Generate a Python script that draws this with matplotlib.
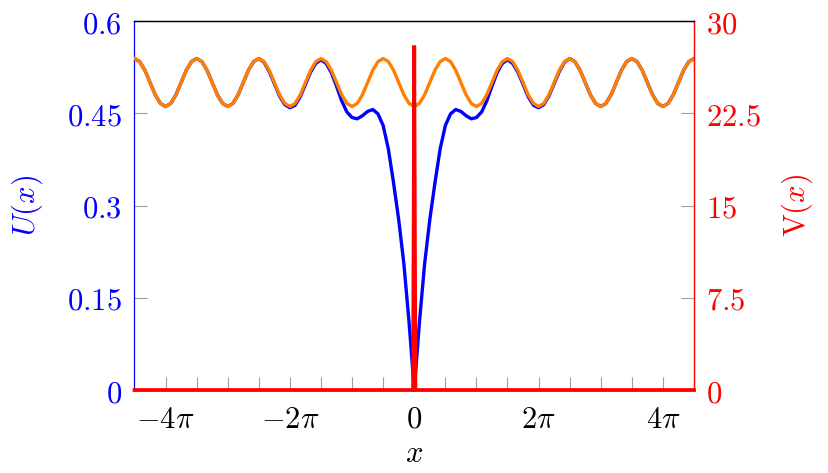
import numpy as np
import matplotlib
matplotlib.use("Agg")
import matplotlib.pyplot as plt
from matplotlib.ticker import FixedLocator, FixedFormatter

plt.rcParams['mathtext.fontset'] = 'cm'
plt.rcParams['font.family'] = ['DejaVu Serif']

# ---- data (x in units of pi, sampled every pi/12 from -4.5pi to 4.5pi) ----
x_pi = np.linspace(-4.5, 4.5, 109)

# background periodic state (orange)
U0_values = [
    0.539, 0.534, 0.520, 0.500, 0.480, 0.466,
    0.461, 0.466, 0.480, 0.500, 0.520, 0.534, 0.539, 0.534, 0.520, 0.500, 0.480, 0.466,
    0.461, 0.466, 0.480, 0.500, 0.520, 0.534, 0.539, 0.534, 0.520, 0.500, 0.480, 0.466,
    0.461, 0.466, 0.480, 0.500, 0.520, 0.534, 0.539, 0.534, 0.520, 0.500, 0.480, 0.466,
    0.461, 0.466, 0.480, 0.500, 0.520, 0.534, 0.539, 0.534, 0.520, 0.500, 0.480, 0.466,
    0.461,
    0.466, 0.480, 0.500, 0.520, 0.534, 0.539, 0.534, 0.520, 0.500, 0.480, 0.466, 0.461,
    0.466, 0.480, 0.500, 0.520, 0.534, 0.539, 0.534, 0.520, 0.500, 0.480, 0.466, 0.461,
    0.466, 0.480, 0.500, 0.520, 0.534, 0.539, 0.534, 0.520, 0.500, 0.480, 0.466, 0.461,
    0.466, 0.480, 0.500, 0.520, 0.534, 0.539, 0.534, 0.520, 0.500, 0.480, 0.466, 0.461,
    0.466, 0.480, 0.500, 0.520, 0.534, 0.539,
]

# state with the defect at x = 0 (blue)
U_values = [
    0.539, 0.534, 0.520, 0.500, 0.480, 0.466,
    0.461, 0.466, 0.480, 0.500, 0.520, 0.534, 0.539, 0.534, 0.520, 0.500, 0.480, 0.466,
    0.461, 0.466, 0.480, 0.500, 0.520, 0.534, 0.539, 0.533, 0.518, 0.498, 0.478, 0.464,
    0.459, 0.463, 0.477, 0.497, 0.517, 0.531, 0.537, 0.531, 0.516, 0.494, 0.470, 0.452,
    0.443, 0.441, 0.446, 0.453, 0.456, 0.449, 0.430, 0.392, 0.337, 0.277, 0.205, 0.110,
    0.000,
    0.110, 0.205, 0.277, 0.337, 0.392, 0.430, 0.449, 0.456, 0.453, 0.446, 0.441, 0.443,
    0.452, 0.470, 0.494, 0.516, 0.531, 0.537, 0.531, 0.517, 0.497, 0.477, 0.463, 0.459,
    0.464, 0.478, 0.498, 0.518, 0.533, 0.539, 0.534, 0.520, 0.500, 0.480, 0.466, 0.461,
    0.466, 0.480, 0.500, 0.520, 0.534, 0.539, 0.534, 0.520, 0.500, 0.480, 0.466, 0.461,
    0.466, 0.480, 0.500, 0.520, 0.534, 0.539,
]

# potential (red): zero everywhere except a narrow spike at x = 0
V_x = [-4.5 * np.pi, -0.06, 0.0, 0.06, 4.5 * np.pi]
V_values = [0.0, 0.0, 28.0, 0.0, 0.0]

x_tick_pi = [-4, -3.5, -3, -2.5, -2, -1.5, -1, -0.5, 0, 0.5, 1, 1.5, 2, 2.5, 3, 3.5, 4]
x_tick_labels = [r'$-4\pi$', '', '', '', r'$-2\pi$', '', '', '', r'$0$', '', '', '',
                 r'$2\pi$', '', '', '', r'$4\pi$']
u_ticks = [0, 0.15, 0.3, 0.45, 0.6]
u_tick_labels = [r'$0$', r'$0.15$', r'$0.3$', r'$0.45$', r'$0.6$']
v_ticks = [0, 7.5, 15, 22.5, 30]
v_tick_labels = [r'$0$', r'$7.5$', r'$15$', r'$22.5$', r'$30$']

BLUE = '#0000ff'
ORANGE = '#ff8000'
RED = '#ff0000'
TICKC = '#a0a0a0'
FS = 22

x = x_pi * np.pi

fig = plt.figure(figsize=(8.29, 4.73), dpi=100)
ax = fig.add_axes([134.5 / 829, 1 - 390 / 473, 559.5 / 829, 369 / 473])
ax2 = ax.twinx()

ax.plot(x, U_values, color=BLUE, lw=2.4, zorder=2, solid_joinstyle='round')
ax.plot(x, U0_values, color=ORANGE, lw=2.4, zorder=3, solid_joinstyle='round')
ax2.plot(V_x, V_values, color=RED, lw=2.7, zorder=5, clip_on=False,
         solid_joinstyle='miter')

ax.set_xlim(-4.5 * np.pi, 4.5 * np.pi)
ax.set_ylim(0, 0.6)
ax2.set_ylim(0, 30)

ax.xaxis.set_major_locator(FixedLocator([t * np.pi for t in x_tick_pi]))
ax.xaxis.set_major_formatter(FixedFormatter(x_tick_labels))
ax.yaxis.set_major_locator(FixedLocator(u_ticks))
ax.yaxis.set_major_formatter(FixedFormatter(u_tick_labels))
ax2.yaxis.set_major_locator(FixedLocator(v_ticks))
ax2.yaxis.set_major_formatter(FixedFormatter(v_tick_labels))

ax.tick_params(axis='x', direction='in', length=9.4, width=0.8, color=TICKC,
               labelsize=FS, pad=10, top=False, bottom=True)
ax.tick_params(axis='y', direction='in', length=9.4, width=0.8, color=TICKC,
               labelsize=FS, labelcolor=BLUE, pad=9, left=True, right=False)
ax2.tick_params(axis='y', direction='in', length=9.4, width=0.8, color=TICKC,
                labelsize=FS, labelcolor=RED, pad=9, left=False, right=True)

for a in (ax, ax2):
    a.spines['top'].set_color('black')
    a.spines['bottom'].set_color('black')
    a.spines['left'].set_color(BLUE)
    a.spines['right'].set_color(RED)
    for s in a.spines.values():
        s.set_linewidth(0.9)
ax2.spines['left'].set_visible(False)

ax.set_xlabel(r'$x$', fontsize=FS)
ax.xaxis.set_label_coords(0.5, -0.172)
ax.xaxis.label.set_va('center')

ax.set_ylabel(r'$U(x)$', fontsize=FS, color=BLUE)
ax.yaxis.label.set_rotation_mode('default')
ax.yaxis.label.set_va('center')
ax.yaxis.set_label_coords(-0.192, 0.5)

ax2.set_ylabel(r'$\mathrm{V}(x)$', fontsize=FS, color=RED)
ax2.yaxis.label.set_rotation(90)
ax2.yaxis.label.set_rotation_mode('default')
ax2.yaxis.label.set_va('center')
ax2.yaxis.set_label_coords(1.184, 0.5)

fig.savefig('out.png', dpi=100)
